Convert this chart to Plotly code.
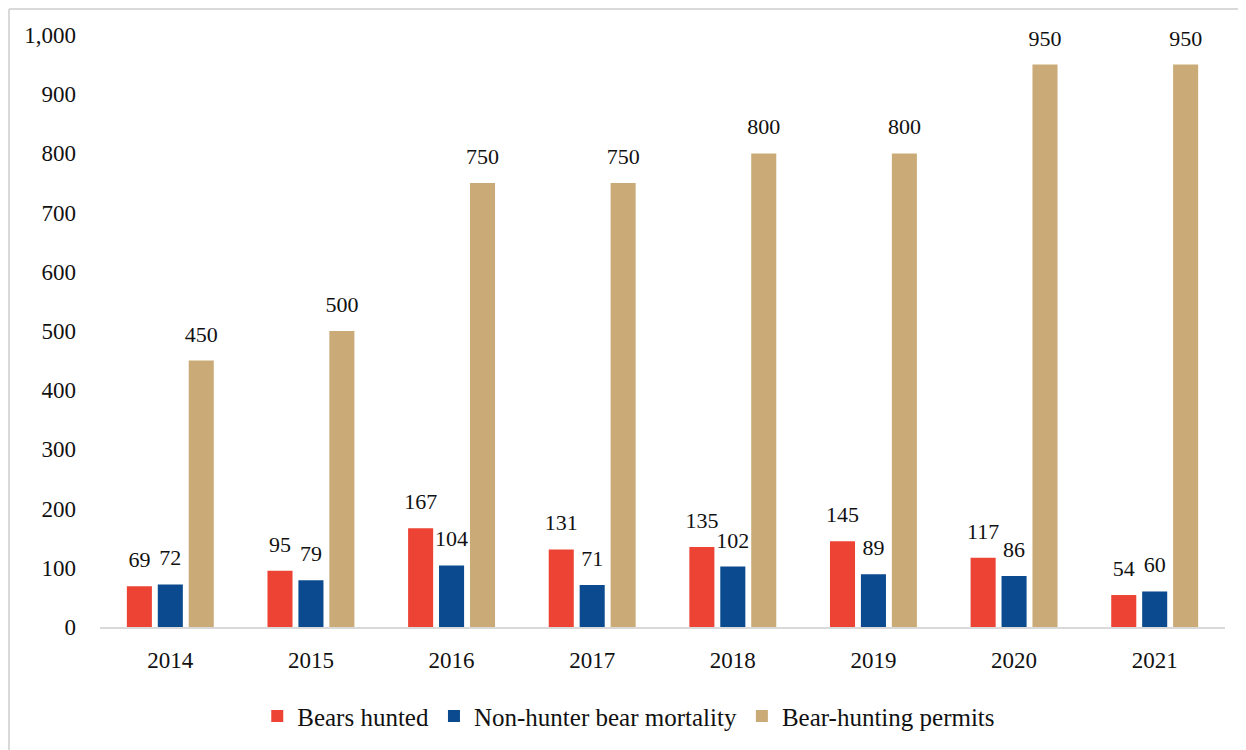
import plotly.graph_objects as go

years = ["2014", "2015", "2016", "2017", "2018", "2019", "2020", "2021"]
bears_hunted = [69, 95, 167, 131, 135, 145, 117, 54]
non_hunter_mortality = [72, 79, 104, 71, 102, 89, 86, 60]
permits = [450, 500, 750, 750, 800, 800, 950, 950]

series_names = ["Bears hunted", "Non-hunter bear mortality", "Bear-hunting permits"]
series_values = [bears_hunted, non_hunter_mortality, permits]
colors = ["#EC4335", "#0B4A8E", "#CAAB78"]

FONT = "Liberation Serif, Times New Roman, serif"
W, H = 1238, 742
GAP = 0.34

fig = go.Figure()
for i, (name, vals, col) in enumerate(zip(series_names, series_values, colors)):
    fig.add_trace(go.Bar(
        x=years, y=vals, name=name,
        marker=dict(color=col, line=dict(width=0)),
        offsetgroup=str(i),
    ))
for i, (name, vals) in enumerate(zip(series_names, series_values)):
    fig.add_trace(go.Scatter(
        x=years, y=vals, mode="markers+text", showlegend=False, hoverinfo="skip",
        text=[str(v) for v in vals], textposition="top center",
        textfont=dict(family=FONT, size=22, color="#111111"),
        marker=dict(size=20, opacity=0),
        offsetgroup=str(i), cliponaxis=False,
    ))

fig.update_layout(
    width=W, height=H,
    barmode="group", bargap=GAP, bargroupgap=0.19,
    scattermode="group", scattergap=GAP,
    plot_bgcolor="white", paper_bgcolor="white",
    margin=dict(l=92, r=21, t=27, b=122),
    font=dict(family=FONT, size=23, color="#111111"),
    showlegend=True,
    legend=dict(orientation="h", x=0.47, xanchor="center", y=-0.11, yanchor="top",
                font=dict(family=FONT, size=25, color="#111111"), traceorder="normal"),
    xaxis=dict(showgrid=False, showline=True, linecolor="#D9D9D9", linewidth=2,
               ticks="", ticklabelstandoff=11, tickfont=dict(family=FONT, size=23)),
    yaxis=dict(range=[0, 1000], dtick=100, tickformat=",", showgrid=False,
               showline=False, zeroline=False, ticks="", ticklabelstandoff=23,
               tickfont=dict(family=FONT, size=23)),
    shapes=[
        dict(type="line", xref="paper", yref="paper", x0=-91/1125, x1=1.1, y0=1+26/593, y1=1+26/593,
             line=dict(color="#D9D9D9", width=2)),
        dict(type="line", xref="paper", yref="paper", x0=-91/1125, x1=-91/1125, y0=-0.3, y1=1+26/593,
             line=dict(color="#D9D9D9", width=2)),
    ],
)

fig.write_html("out.html")
